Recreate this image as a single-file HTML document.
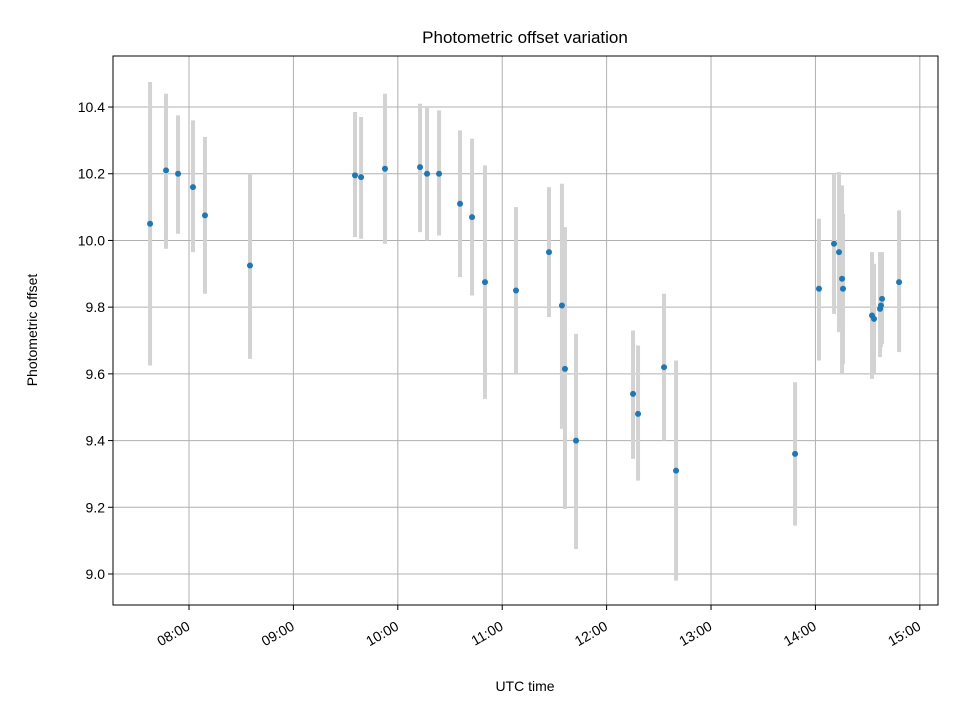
<!DOCTYPE html>
<html><head><meta charset="utf-8"><style>
body{margin:0;background:#fff}
svg{font-family:"Liberation Sans","DejaVu Sans",sans-serif}
</style></head><body>
<svg id="chart" width="960" height="720" viewBox="0 0 960 720" xmlns="http://www.w3.org/2000/svg">
<rect width="960" height="720" fill="#fff"/>
<text x="525" y="43" text-anchor="middle" font-size="17">Photometric offset variation</text>
<text x="525" y="691" text-anchor="middle" font-size="14">UTC time</text>
<text transform="translate(37,330) rotate(-90)" text-anchor="middle" font-size="14">Photometric offset</text>
<g id="grid"></g><g id="errs"></g><g id="pts"></g><g id="axes"></g>
</svg>
<script>
const times=[7.627,7.780,7.895,8.038,8.153,8.584,9.590,9.648,9.877,10.213,10.280,10.395,10.596,10.711,10.835,11.132,11.448,11.572,11.601,11.707,12.253,12.301,12.550,12.665,13.805,14.034,14.178,14.226,14.255,14.264,14.542,14.561,14.619,14.628,14.638,14.801];
const values=[10.05,10.21,10.20,10.16,10.075,9.925,10.195,10.19,10.215,10.22,10.20,10.20,10.11,10.07,9.875,9.85,9.965,9.805,9.615,9.40,9.54,9.48,9.62,9.31,9.36,9.855,9.99,9.965,9.885,9.855,9.775,9.765,9.795,9.805,9.825,9.875];
const upper=[10.475,10.44,10.375,10.36,10.31,10.20,10.385,10.37,10.44,10.41,10.40,10.39,10.33,10.305,10.225,10.10,10.16,10.17,10.04,9.72,9.73,9.685,9.84,9.64,9.575,10.065,10.20,10.205,10.165,10.08,9.965,9.93,9.965,9.96,9.965,10.09];
const lower=[9.625,9.975,10.02,9.965,9.84,9.645,10.01,10.005,9.99,10.025,10.0,10.015,9.89,9.835,9.525,9.60,9.77,9.435,9.195,9.075,9.345,9.28,9.40,8.98,9.145,9.64,9.78,9.725,9.60,9.63,9.585,9.60,9.65,9.68,9.69,9.665];
const yTicks=[9.0,9.2,9.4,9.6,9.8,10.0,10.2,10.4];
const xTicks=[8,9,10,11,12,13,14,15];
const xTickLabels=["08:00","09:00","10:00","11:00","12:00","13:00","14:00","15:00"];
const L=113,R=938,T=56,B=605;
const x0=7.272,x1=15.174,y0=8.907,y1=10.553;
const sx=v=>L+(v-x0)/(x1-x0)*(R-L);
const sy=v=>B-(v-y0)/(y1-y0)*(B-T);
const NS="http://www.w3.org/2000/svg";
function mk(tag,attrs,parent){const e=document.createElementNS(NS,tag);for(const k in attrs)e.setAttribute(k,attrs[k]);document.getElementById(parent).appendChild(e);return e;}
xTicks.forEach((t,i)=>{const x=sx(t);
 const g=mk('line',{x1:x,x2:x,y1:T,y2:B,stroke:'#b0b0b0','stroke-width':1},'grid');
 
 
 const tk=mk('line',{x1:x,x2:x,y1:B,y2:B+5,stroke:'#000'},'axes');
 
 
 const tx=mk('text',{transform:`translate(${x+2},${B+24}) rotate(-30)`,'text-anchor':'end','font-size':14},'axes');
 tx.textContent=xTickLabels[i];
 
 
});
yTicks.forEach(v=>{const y=sy(v);
 const g=mk('line',{x1:L,x2:R,y1:y,y2:y,stroke:'#b0b0b0','stroke-width':1},'grid');
 
 
 const tk=mk('line',{x1:L-5,x2:L,y1:y,y2:y,stroke:'#000'},'axes');
 
 
 const tx=mk('text',{x:L-8,y:y+5,'text-anchor':'end','font-size':14},'axes');
 tx.textContent=v.toFixed(1);
 
 
});
const fr=mk('rect',{x:L,y:T,width:R-L,height:B-T,fill:'none',stroke:'#000','stroke-width':1},'axes');


times.forEach((t,i)=>{const x=sx(t);
 const e=mk('line',{x1:x,x2:x,y1:sy(upper[i]),y2:sy(lower[i]),stroke:'#d3d3d3','stroke-width':4},'errs');
 
 
 const p=mk('circle',{cx:x,cy:sy(values[i]),r:3,fill:'#1f77b4'},'pts');
 
 
});
</script>
</body></html>
